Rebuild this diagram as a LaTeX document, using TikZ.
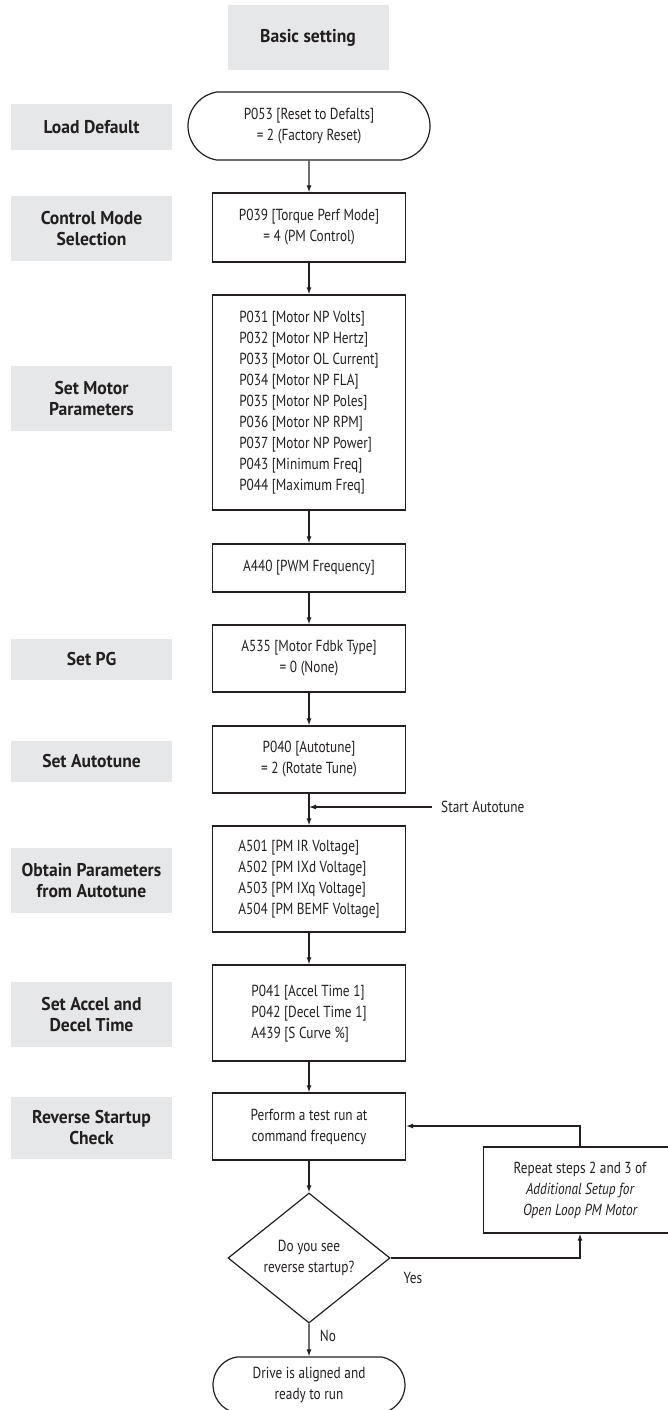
\documentclass[tikz,border=0pt]{standalone}
\usepackage{fontspec}
\setmainfont{PT Sans}[FakeStretch=0.83]
\newfontfamily\lblfont{PT Sans}[FakeStretch=0.95]
\usetikzlibrary{shapes.misc,shapes.geometric,arrows.meta}
\definecolor{lblgray}{HTML}{E6E7E8}
\definecolor{ink}{HTML}{231F20}
\begin{document}
\begin{tikzpicture}[x=1pt,y=-1pt,
  every node/.style={text=ink},
  lbl/.style={fill=lblgray, minimum width=161pt, inner sep=0pt, align=center,
    font=\lblfont\fontsize{18.5}{21}\selectfont\bfseries},
  stepbox/.style={draw=ink, line width=1.2pt, minimum width=193pt, inner sep=0pt, align=center,
    font=\fontsize{16}{21}\selectfont},
  term/.style={draw=ink, line width=1.2pt, rounded rectangle, rounded rectangle arc length=160,
    inner sep=0pt, align=center, font=\fontsize{16}{21}\selectfont},
  dec/.style={draw=ink, line width=1.2pt, diamond, aspect=1.25, minimum width=162pt, minimum height=130pt,
    inner sep=0pt, align=center, font=\fontsize{16}{21}\selectfont},
  txt/.style={font=\fontsize{16}{21}\selectfont, inner sep=0pt},
  conn/.style={draw=ink, line width=1.2pt, -{Latex[length=7pt,width=5pt]}},
  seg/.style={draw=ink, line width=1.2pt}
]
\useasboundingbox (0,0) rectangle (667,1410);

% left labels
\node[lbl, minimum height=65pt] (basic) at (308,37.5) {Basic setting};
\node[lbl, minimum height=46pt] (l1) at (91.5,127) {Load Default};
\node[lbl, minimum height=65pt] (l2) at (91.5,228.5) {Control Mode\\Selection};
\node[lbl, minimum height=65pt] (l3) at (91.5,398.5) {Set Motor\\Parameters};
\node[lbl, minimum height=41pt] (l4) at (91.5,659.5) {Set PG};
\node[lbl, minimum height=41pt] (l5) at (91.5,761.5) {Set Autotune};
\node[lbl, minimum height=65pt] (l6) at (91.5,880.5) {Obtain Parameters\\from Autotune};
\node[lbl, minimum height=65pt] (l7) at (91.5,1014.5) {Set Accel and\\Decel Time};
\node[lbl, minimum height=62pt] (l8) at (91.5,1128) {Reverse Startup\\Check};

% flow
\node[term, minimum width=242pt, minimum height=68pt] (t1) at (309,126) {P053 [Reset to Defalts]\\= 2 (Factory Reset)};
\node[stepbox, minimum height=69pt] (b2) at (309,227.5) {P039 [Torque Perf Mode]\\= 4 (PM Control)};
\node[stepbox, minimum height=215pt] (b3) at (309,402.5) {\begin{tabular}{@{}l@{}}P031 [Motor NP Volts]\\P032 [Motor NP Hertz]\\P033 [Motor OL Current]\\P034 [Motor NP FLA]\\P035 [Motor NP Poles]\\P036 [Motor NP RPM]\\P037 [Motor NP Power]\\P043 [Minimum Freq]\\P044 [Maximum Freq]\end{tabular}};
\node[stepbox, minimum height=48pt] (b4) at (309,568) {A440 [PWM Frequency]};
\node[stepbox, minimum height=67pt] (b5) at (309,658.5) {A535 [Motor Fdbk Type]\\= 0 (None)};
\node[stepbox, minimum height=67pt] (b6) at (309,759.5) {P040 [Autotune]\\= 2 (Rotate Tune)};
\node[stepbox, minimum height=106pt] (b7) at (309,879) {\begin{tabular}{@{}l@{}}A501 [PM IR Voltage]\\A502 [PM IXd Voltage]\\A503 [PM IXq Voltage]\\A504 [PM BEMF Voltage]\end{tabular}};
\node[stepbox, minimum height=96pt] (b8) at (309,1013) {\begin{tabular}{@{}l@{}}P041 [Accel Time 1]\\P042 [Decel Time 1]\\A439 [S Curve \%]\end{tabular}};
\node[stepbox, minimum height=67pt] (b9) at (309,1126.5) {Perform a test run at\\command frequency};
\node[dec] (d1) at (309,1258) {Do you see\\reverse startup?};
\node[stepbox, minimum height=86pt] (rep) at (580,1190) {Repeat steps 2 and 3 of\\\itshape Additional Setup for\\\itshape Open Loop PM Motor};
\node[term, minimum width=192pt, minimum height=56pt] (t2) at (309,1385) {Drive is aligned and\\ready to run};

% connectors
\draw[conn] (t1) -- (b2);
\draw[conn] (b2) -- (b3);
\draw[conn] (b3) -- (b4);
\draw[conn] (b4) -- (b5);
\draw[conn] (b5) -- (b6);
\draw[conn] (b6) -- (b7);
\draw[conn] (b7) -- (b8);
\draw[conn] (b8) -- (b9);
\draw[conn] (b9) -- (d1);
\draw[conn] (d1) -- (t2);

\coordinate (sa) at (432,807);
\node[txt, anchor=west] (satxt) at (441,807) {Start Autotune};
\draw[conn] (sa) -- (309,807);

\draw[conn] (d1.east) -| (rep.south);
\draw[conn] (rep.north) |- (b9.east |- 0,1126);

\node[txt] (yes) at (413,1278) {Yes};
\node[txt] (no) at (328,1336) {No};
\end{tikzpicture}
\end{document}
